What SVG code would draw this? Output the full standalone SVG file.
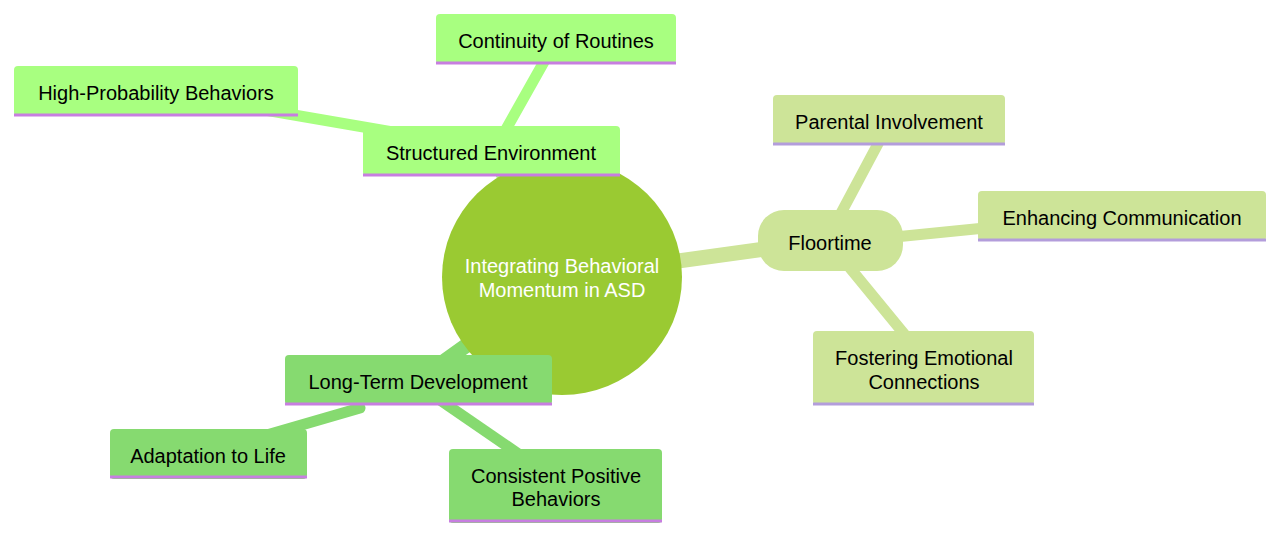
<svg xmlns="http://www.w3.org/2000/svg" width="1280" height="535" viewBox="0 0 1280 535">
<style>
text{font-family:"Liberation Sans",Arial,sans-serif;font-size:20px;fill:#000;text-anchor:middle;dominant-baseline:central}
.e{fill:none;stroke-linecap:round}
.s{fill:#a8ff80}.f{fill:#cde498}.l{fill:#86da70}
.us{stroke:#c77ee0;stroke-width:3}.uf{stroke:#b39ddb;stroke-width:3}
</style>
<rect width="1280" height="535" fill="#fff"/>
<g id="connectors">
<line class="e" x1="562" y1="277" x2="490" y2="151" stroke="#a8ff80" stroke-width="15"/>
<line class="e" x1="562" y1="277" x2="830" y2="240" stroke="#cde498" stroke-width="15"/>
<line class="e" x1="562" y1="277" x2="418" y2="380" stroke="#86da70" stroke-width="15"/>
<line class="e" x1="500" y1="140" x2="545" y2="60" stroke="#a8ff80" stroke-width="11"/>
<line class="e" x1="410" y1="135" x2="265" y2="110" stroke="#a8ff80" stroke-width="11"/>
<line class="e" x1="840" y1="215" x2="880" y2="140" stroke="#cde498" stroke-width="11"/>
<line class="e" x1="895" y1="237" x2="985" y2="228" stroke="#cde498" stroke-width="11"/>
<line class="e" x1="850" y1="268" x2="905" y2="335" stroke="#cde498" stroke-width="11"/>
<line class="e" x1="360" y1="408" x2="250" y2="440" stroke="#86da70" stroke-width="11"/>
<line class="e" x1="440" y1="400" x2="520" y2="455" stroke="#86da70" stroke-width="11"/>
</g>
<g id="root"><ellipse cx="562" cy="277" rx="120" ry="118" fill="#9aca32"/>
<text x="562" y="266" fill="#fff" style="fill:#fff">Integrating Behavioral</text><text x="562" y="290" style="fill:#fff">Momentum in ASD</text></g>
<g id="structured"><rect class="s" x="363" y="126" width="257" height="50" rx="4"/><line class="us" x1="363" y1="175" x2="620" y2="175"/><text x="491" y="153">Structured Environment</text></g>
<g id="continuity"><rect class="s" x="436" y="14" width="240" height="50" rx="4"/><line class="us" x1="436" y1="63" x2="676" y2="63"/><text x="556" y="41">Continuity of Routines</text></g>
<g id="highprob"><rect class="s" x="14" y="66" width="284" height="50" rx="4"/><line class="us" x1="14" y1="115" x2="298" y2="115"/><text x="156" y="93">High-Probability Behaviors</text></g>
<g id="floortime"><rect class="f" x="758" y="210" width="145" height="61" rx="26"/><text x="830" y="243">Floortime</text></g>
<g id="parental"><rect class="f" x="773" y="95" width="232" height="50" rx="4"/><line class="uf" x1="773" y1="144" x2="1005" y2="144"/><text x="889" y="122">Parental Involvement</text></g>
<g id="enhancing"><rect class="f" x="978" y="191" width="288" height="50" rx="4"/><line class="uf" x1="978" y1="240" x2="1266" y2="240"/><text x="1122" y="218">Enhancing Communication</text></g>
<g id="fostering"><rect class="f" x="813" y="331" width="221" height="74" rx="4"/><line class="uf" x1="813" y1="404" x2="1034" y2="404"/><text x="924" y="358">Fostering Emotional</text><text x="924" y="382">Connections</text></g>
<g id="longterm"><rect class="l" x="285" y="355" width="267" height="50" rx="4"/><line class="us" x1="285" y1="404" x2="552" y2="404"/><text x="418" y="382">Long-Term Development</text></g>
<g id="adaptation"><rect class="l" x="110" y="429" width="197" height="50" rx="4"/><line class="us" x1="110" y1="477" x2="307" y2="477"/><text x="208" y="456">Adaptation to Life</text></g>
<g id="consistent"><rect class="l" x="449" y="449" width="213" height="74" rx="4"/><line class="us" x1="449" y1="521" x2="662" y2="521"/><text x="556" y="476">Consistent Positive</text><text x="556" y="499">Behaviors</text></g>
</svg>
